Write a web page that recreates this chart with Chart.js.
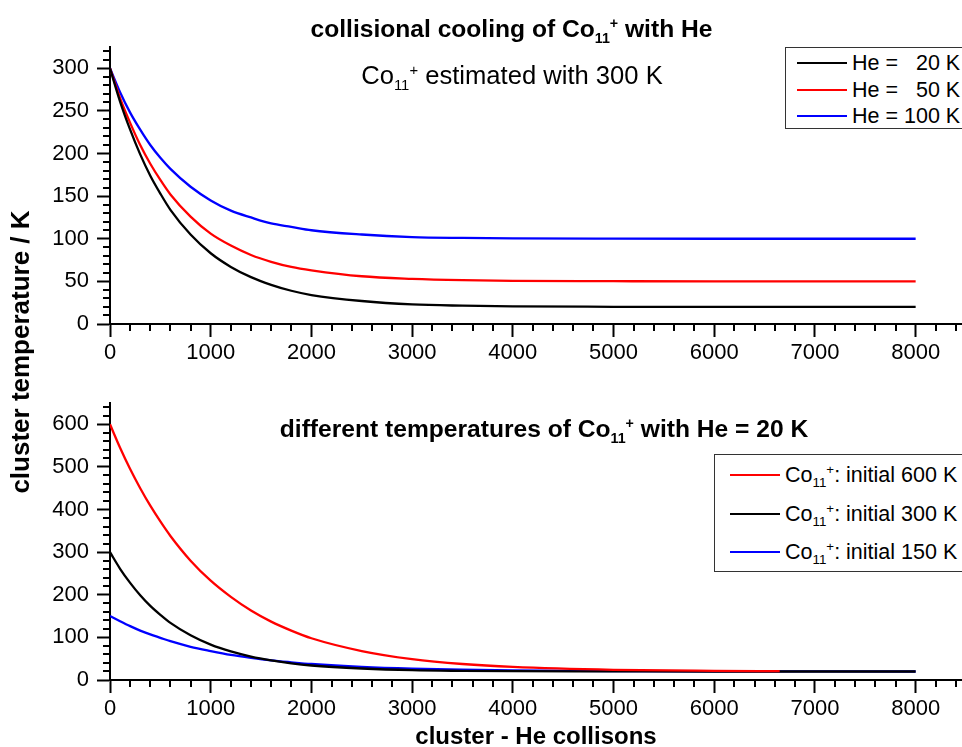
<!DOCTYPE html>
<html>
<head>
<meta charset="utf-8">
<script src="https://cdn.jsdelivr.net/npm/chart.js@4.4.0/dist/chart.umd.min.js"></script>
<style>
  html, body { margin: 0; padding: 0; background: #fff; overflow: hidden; width: 962px; height: 747px; }
  body { position: relative; font-family: "Liberation Sans", Arial, sans-serif; color: #000; }
  canvas { position: absolute; left: 0; }
  #topChart { top: 0; }
  #botChart { top: 370px; }
  .txt { position: absolute; white-space: pre; line-height: 1; }
  .bold { font-weight: bold; }
  sub, sup { font-size: 0.58em; line-height: 0; }
  sub { vertical-align: -0.4em; }
  sup { vertical-align: 0.6em; }
  .legend { position: absolute; border: 1.5px solid #333; background: #fff; box-sizing: border-box; }
  .legend .swatch { position: absolute; height: 2px; }
  .legend .lbl { position: absolute; white-space: pre; line-height: 1; font-size: 21.5px; }
  .legend sub, .legend sup { font-size: 0.62em; }
</style>
</head>
<body>
<canvas id="topChart" width="1000" height="370"></canvas>
<canvas id="botChart" width="1000" height="377"></canvas>

<div class="txt bold" style="left:0;width:1023px;text-align:center;top:17px;font-size:24.6px;">collisional cooling of Co<sub>11</sub><sup>+</sup> with He</div>
<div class="txt" style="left:0;width:1024px;text-align:center;top:63px;font-size:25.6px;">Co<sub>11</sub><sup>+</sup> estimated with 300 K</div>
<div class="txt bold" style="left:0;width:1088px;text-align:center;top:417px;font-size:24.6px;">different temperatures of Co<sub>11</sub><sup>+</sup> with He = 20 K</div>
<div class="txt bold" style="left:0;width:1072px;text-align:center;top:724px;font-size:24px;">cluster - He collisons</div>
<div class="txt bold" style="left:-180px;width:400px;text-align:center;top:339px;height:26px;line-height:26px;font-size:26px;transform:rotate(-90deg);">cluster temperature / K</div>

<div class="legend" id="topLegend" style="left:785px;top:47px;width:230px;height:82px;"></div>
<div class="legend" id="botLegend" style="left:714px;top:454px;width:300px;height:118px;"></div>

<script>
const collisions = [0, 100, 200, 300, 400, 500, 600, 800, 1000, 1200, 1400, 1600, 1800, 2000, 2500, 3000, 3500, 4000, 5000, 6000, 7000, 8000];
const collisionsRed = [0, 100, 200, 300, 400, 500, 600, 800, 1000, 1200, 1400, 1600, 1800, 2000, 2500, 3000, 3500, 4000, 5000, 6000, 6650];

// upper panel: cluster starts at 300 K, different He temperatures
const he20 = [300, 261, 228, 199, 174, 153, 134, 105, 83, 67, 55, 46, 39, 34, 27, 23, 21.5, 20.7, 20.2, 20, 20, 20];
const he50 = [300, 265, 236, 210, 188, 169, 152, 126, 106, 92, 81, 73, 67, 63, 56, 53, 51.4, 50.6, 50.2, 50, 50, 50];
const he100 = [300, 272, 248, 228, 210, 195, 182, 161, 145, 133, 125, 118, 114, 110, 105, 102, 101, 100.5, 100.1, 100, 100, 100];

// lower panel: He = 20 K, different initial cluster temperatures
const init600 = [600, 545, 495, 450, 409, 372, 338, 280, 233, 195, 163, 137, 116, 98, 68, 49, 37.5, 30.6, 23.9, 21.5, 20.8];
const init300 = [300, 261, 228, 199, 174, 153, 134, 105, 83, 67, 55, 46, 39, 34, 27, 23, 21.5, 20.7, 20.2, 20, 20, 20];
const init150 = [150, 138, 126.5, 116, 107, 99, 91, 78, 68, 59, 52, 46, 41.5, 37.5, 30.7, 26.5, 24, 22.4, 20.9, 20.3, 20.1, 20];

const xTicks = [0, 1000, 2000, 3000, 4000, 5000, 6000, 7000, 8000];
const topYTicks = [0, 50, 100, 150, 200, 250, 300];
const botYTicks = [0, 100, 200, 300, 400, 500, 600];

const topLabels = ["He =   20 K", "He =   50 K", "He = 100 K"];
const botLabels = ["600", "300", "150"];

const FONT = '"Liberation Sans", Arial, sans-serif';

const points = (xs, ys) => ys.map((y, i) => ({ x: xs[i], y: y }));

// small ticks between the labelled ones
const minorTicks = {
  id: 'minorTicks',
  afterDraw(chart, args, opts) {
    const { ctx, scales: { x, y } } = chart;
    ctx.save();
    ctx.strokeStyle = '#000';
    ctx.lineWidth = 2;
    ctx.beginPath();
    for (let i = 0; i * opts.xStep <= x.max; i++) {
      const v = i * opts.xStep;
      if (v % opts.xMajor === 0) continue;
      const px = Math.round(x.getPixelForValue(v));
      ctx.moveTo(px, x.top);
      ctx.lineTo(px, x.top + 7);
    }
    for (let i = 0; i * opts.yStep <= y.max; i++) {
      const v = i * opts.yStep;
      if (v % opts.yMajor === 0) continue;
      const py = Math.round(y.getPixelForValue(v));
      ctx.moveTo(y.right - 7, py);
      ctx.lineTo(y.right, py);
    }
    ctx.stroke();
    ctx.restore();
  }
};

function makeChart(id, datasets, yMax, yTicks, yStep, padTop, xHeight) {
  return new Chart(document.getElementById(id), {
    type: 'line',
    data: { datasets: datasets },
    options: {
      responsive: false,
      animation: false,
      layout: { padding: { top: padTop, right: 34, left: 0, bottom: 0 } },
      elements: {
        point: { radius: 0 },
        line: { borderWidth: 2.3, cubicInterpolationMode: 'monotone' }
      },
      plugins: {
        legend: { display: false },
        tooltip: { enabled: false },
        minorTicks: { xStep: 200, xMajor: 1000, yStep: yStep, yMajor: yStep * 5 }
      },
      scales: {
        x: {
          type: 'linear',
          min: 0,
          max: 8500,
          afterBuildTicks: s => { s.ticks = xTicks.map(v => ({ value: v })); },
          afterFit: s => { s.height = xHeight; },
          grid: { drawOnChartArea: false, drawTicks: true, tickLength: 13, tickWidth: 2, tickColor: '#000' },
          border: { color: '#000', width: 2 },
          ticks: {
            color: '#000', font: { family: FONT, size: 22 }, padding: 3, maxRotation: 0, autoSkip: false,
            callback: v => String(v)
          }
        },
        y: {
          type: 'linear',
          min: 0,
          max: yMax,
          afterBuildTicks: s => { s.ticks = yTicks.map(v => ({ value: v })); },
          afterFit: s => { s.width = 110; },
          grid: { drawOnChartArea: false, drawTicks: true, tickLength: 13, tickWidth: 2, tickColor: '#000' },
          border: { color: '#000', width: 2 },
          ticks: { color: '#000', font: { family: FONT, size: 22 }, padding: 8, autoSkip: false, callback: v => String(v) }
        }
      }
    },
    plugins: [minorTicks]
  });
}

const topSets = [
  { label: topLabels[0], data: points(collisions, he20), borderColor: '#000000' },
  { label: topLabels[1], data: points(collisions, he50), borderColor: '#ff0000' },
  { label: topLabels[2], data: points(collisions, he100), borderColor: '#0000ff' }
];
const botSets = [
  { label: botLabels[0], data: points(collisionsRed, init600), borderColor: '#ff0000' },
  { label: botLabels[1], data: points(collisions, init300), borderColor: '#000000' },
  { label: botLabels[2], data: points(collisions, init150), borderColor: '#0000ff' }
];

makeChart('topChart', topSets, 325, topYTicks, 10, 47, 46);
makeChart('botChart', botSets, 650, botYTicks, 20, 33, 67);

// legend boxes built from the dataset labels/colours
function buildLegend(el, sets, firstY, gap, lineX, textX, fmt) {
  sets.forEach((ds, i) => {
    const cy = firstY + i * gap;
    const sw = document.createElement('div');
    sw.className = 'swatch';
    sw.style.cssText = `left:${lineX}px;width:50px;top:${cy - 1}px;background:${ds.borderColor};`;
    const lb = document.createElement('div');
    lb.className = 'lbl';
    lb.style.cssText = `left:${textX}px;top:${cy - 10}px;`;
    lb.innerHTML = fmt(ds.label);
    el.appendChild(sw);
    el.appendChild(lb);
  });
}
buildLegend(document.getElementById('topLegend'), topSets, 15, 26.5, 11, 66, l => l);
buildLegend(document.getElementById('botLegend'), botSets, 20, 38.5, 15, 70,
  l => `Co<sub>11</sub><sup>+</sup>: initial ${l} K`);
</script>
</body>
</html>
